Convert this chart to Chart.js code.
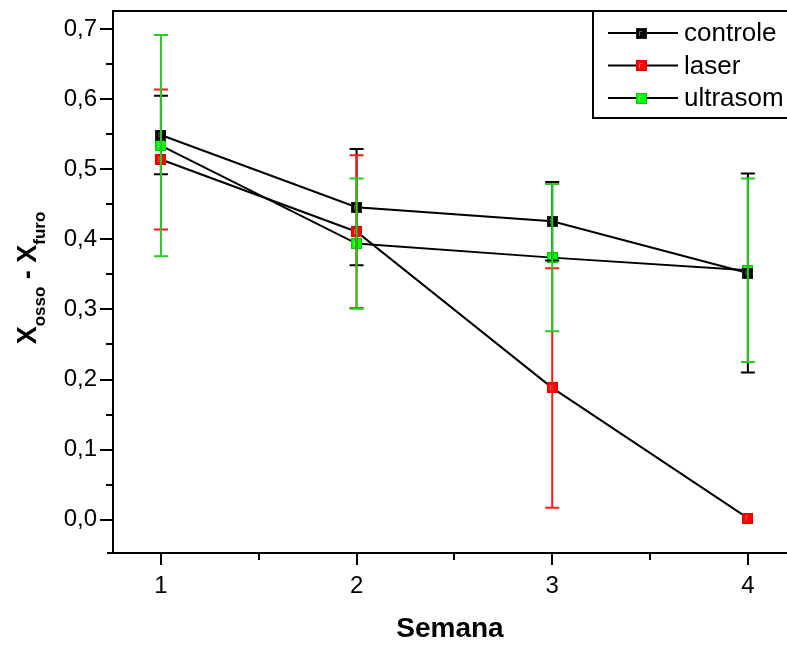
<!DOCTYPE html>
<html>
<head>
<meta charset="utf-8">
<script src="https://cdn.jsdelivr.net/npm/chart.js@4.4.0/dist/chart.umd.min.js"></script>
<style>
  html, body { margin: 0; padding: 0; background: #fff; }
</style>
</head>
<body>
<canvas id="myChart" width="787" height="646"></canvas>
<script>
// data
const semanas = [1, 2, 3, 4];
const seriesNames = ["controle", "laser", "ultrasom"];
const controle = [0.549, 0.446, 0.426, 0.352];
const controleErr = [0.056, 0.083, 0.056, 0.142];
const laser = [0.514, 0.411, 0.188, 0.002];
const laserErr = [0.100, 0.109, 0.171, 0];
const ultrasom = [0.534, 0.394, 0.374, 0.356];
const ultrasomErr = [0.158, 0.093, 0.105, 0.131];
const yTickLabels = [0, 0.1, 0.2, 0.3, 0.4, 0.5, 0.6, 0.7];
const xTickLabels = [1, 2, 3, 4];

const fillColors = ["#000000", "#ff0000", "#00ff00"];
const edgeColors = ["#222222", "#e00000", "#00c800"];
const barColors = ["#000000", "#ff1a1a", "#22cc22"];
const errs = [controleErr, laserErr, ultrasomErr];
const font = "'Liberation Sans', Arial, sans-serif";

// Origin-like square marker with a faint highlight
function markerImg(i) {
  const c = document.createElement("canvas");
  c.width = 11; c.height = 11;
  const g = c.getContext("2d");
  g.fillStyle = fillColors[i];
  g.fillRect(0.5, 0.5, 10, 10);
  g.strokeStyle = edgeColors[i];
  g.lineWidth = 1;
  g.strokeRect(0.5, 0.5, 10, 10);
  g.strokeStyle = "rgba(255,255,255,0.4)";
  g.beginPath();
  g.moveTo(3.5, 8); g.lineTo(3.5, 3.5); g.lineTo(6, 3.5);
  g.stroke();
  return c;
}
const markers = [0, 1, 2].map(markerImg);

const makeSet = (vals, i) => ({
  label: seriesNames[i],
  data: semanas.map((s, j) => ({ x: s, y: vals[j] })),
  borderColor: "#000",
  borderWidth: 2,
  pointStyle: markers[i],
  pointRadius: 6,
  tension: 0,
});

const decor = {
  id: "decor",
  afterDatasetsDraw(chart) {
    const ctx = chart.ctx, xs = chart.scales.x, ys = chart.scales.y;
    chart.data.datasets.forEach((ds, i) => {
      ctx.save();
      ctx.strokeStyle = barColors[i];
      ctx.lineWidth = 2;
      ds.data.forEach((p, j) => {
        const e = errs[i][j];
        if (!e) return;
        const px = xs.getPixelForValue(p.x);
        const t = ys.getPixelForValue(p.y + e);
        const b = ys.getPixelForValue(p.y - e);
        ctx.beginPath();
        ctx.moveTo(px, t); ctx.lineTo(px, b);
        ctx.moveTo(px - 7, t); ctx.lineTo(px + 7, t);
        ctx.moveTo(px - 7, b); ctx.lineTo(px + 7, b);
        ctx.stroke();
      });
      ctx.restore();
    });
  },
  afterDraw(chart) {
    const ctx = chart.ctx, xs = chart.scales.x, ys = chart.scales.y;
    const a = chart.chartArea;
    ctx.save();
    ctx.strokeStyle = "#000";
    ctx.lineWidth = 2;
    // top frame line
    ctx.beginPath();
    ctx.moveTo(a.left, a.top); ctx.lineTo(a.right, a.top);
    ctx.stroke();
    // tick marks
    ctx.beginPath();
    yTickLabels.forEach(v => {
      const py = Math.round(ys.getPixelForValue(v));
      ctx.moveTo(a.left, py); ctx.lineTo(a.left - 13, py);
      const pm = Math.round(ys.getPixelForValue(v + 0.05));
      if (pm > a.top) { ctx.moveTo(a.left, pm); ctx.lineTo(a.left - 7, pm); }
    });
    xTickLabels.forEach(v => {
      const px = Math.round(xs.getPixelForValue(v));
      ctx.moveTo(px, a.bottom); ctx.lineTo(px, a.bottom + 12);
      const pm = Math.round(xs.getPixelForValue(v + 0.5));
      if (pm < a.right) { ctx.moveTo(pm, a.bottom); ctx.lineTo(pm, a.bottom + 7); }
    });
    ctx.moveTo(a.left, a.bottom); ctx.lineTo(a.left - 6, a.bottom);
    ctx.stroke();

    // legend
    const lx = 593, rowY = [33, 65.5, 98];
    ctx.beginPath();
    ctx.moveTo(lx, a.top); ctx.lineTo(lx, 118); ctx.lineTo(chart.width, 118);
    ctx.stroke();
    ctx.font = "26px " + font;
    ctx.textBaseline = "middle";
    ctx.fillStyle = "#000";
    seriesNames.forEach((n, i) => {
      const yy = rowY[i];
      ctx.beginPath();
      ctx.moveTo(608, yy); ctx.lineTo(678, yy);
      ctx.stroke();
      ctx.drawImage(markers[i], 636, Math.round(yy - 5.5));
      ctx.fillText(n, 684, yy + 1);
    });

    // y axis title with subscripts
    const big = "bold 27px " + font, small = "bold 17px " + font;
    const parts = [["X", big, 0], ["osso", small, 9], [" - ", big, 0], ["X", big, 0], ["furo", small, 9]];
    let total = 0;
    parts.forEach(p => { ctx.font = p[1]; total += ctx.measureText(p[0]).width; });
    ctx.translate(36, 278);
    ctx.rotate(-Math.PI / 2);
    ctx.textBaseline = "alphabetic";
    ctx.textAlign = "left";
    let cx = -total / 2;
    parts.forEach(p => {
      ctx.font = p[1];
      ctx.fillText(p[0], cx, p[2]);
      cx += ctx.measureText(p[0]).width;
    });
    ctx.restore();
  }
};

new Chart(document.getElementById("myChart").getContext("2d"), {
  type: "line",
  data: {
    datasets: [makeSet(controle, 0), makeSet(laser, 1), makeSet(ultrasom, 2)],
  },
  options: {
    responsive: false,
    animation: false,
    layout: { autoPadding: false, padding: { top: 11, right: 0, left: 0, bottom: 0 } },
    plugins: { legend: { display: false }, tooltip: { enabled: false } },
    scales: {
      x: {
        type: "linear",
        min: 0.755,
        max: 4.2,
        afterBuildTicks: s => { s.ticks = xTickLabels.map(v => ({ value: v })); },
        afterFit: s => { s.height = 93; s.paddingLeft = 0; s.paddingRight = 0; },
        grid: { display: false, drawTicks: false },
        border: { display: true, color: "#000", width: 2 },
        ticks: {
          padding: 19,
          color: "#000",
          font: { family: font, size: 24 },
          callback: v => String(v),
        },
        title: {
          display: true,
          text: "Semana",
          color: "#000",
          font: { family: font, size: 28, weight: "bold" },
          padding: { top: 0, bottom: 0 },
        },
      },
      y: {
        min: -0.0477,
        max: 0.7261,
        afterBuildTicks: s => { s.ticks = yTickLabels.map(v => ({ value: v })); },
        afterFit: s => { s.width = 113; s.paddingTop = 0; s.paddingBottom = 0; },
        grid: { display: false, drawTicks: false },
        border: { display: true, color: "#000", width: 2 },
        ticks: {
          padding: 16,
          color: "#000",
          font: { family: font, size: 24 },
          callback: v => v.toFixed(1).replace(".", ","),
        },
      },
    },
  },
  plugins: [decor],
});
</script>
</body>
</html>
